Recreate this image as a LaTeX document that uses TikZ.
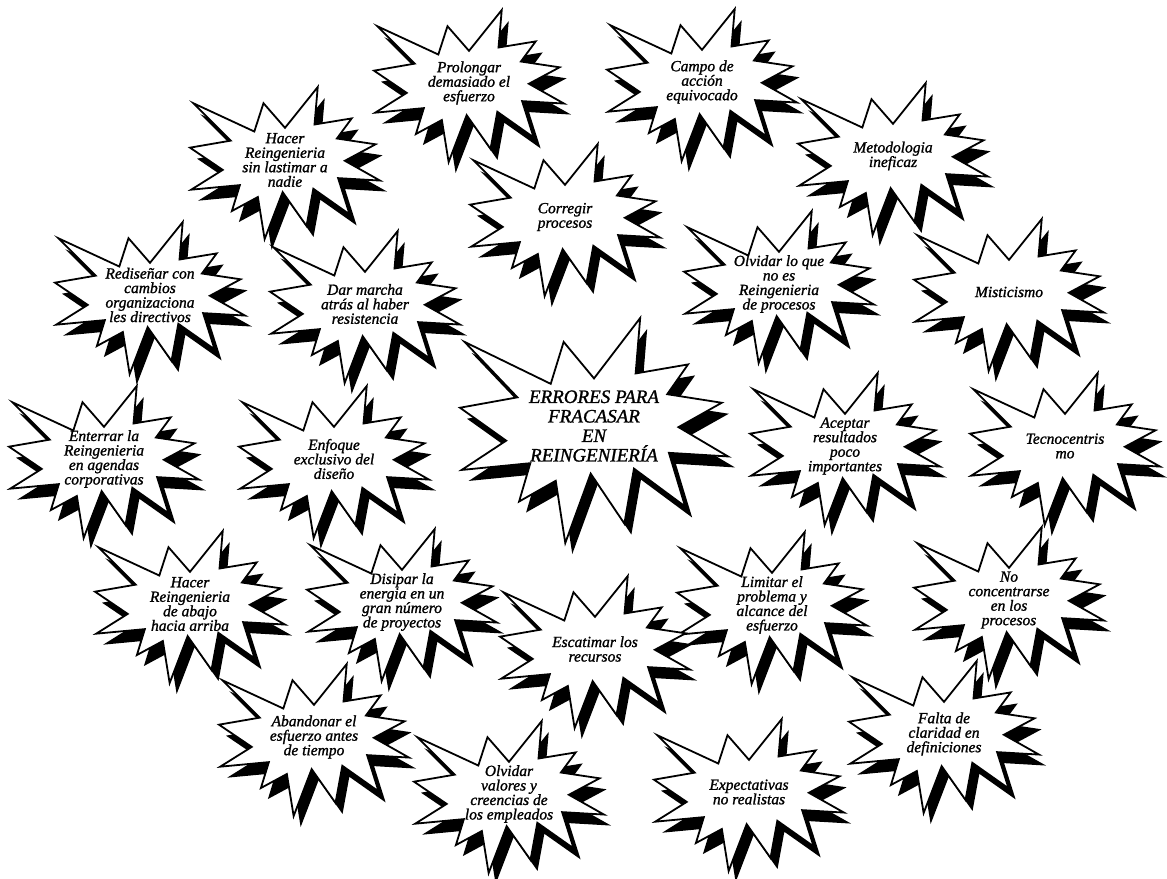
\documentclass[tikz,border=0pt]{standalone}
\usepackage{fontspec}
\setmainfont{Liberation Serif}[ItalicFeatures={FakeBold=1.3}]
\usetikzlibrary{calc,backgrounds}

\newcommand\burstpath{(0.5,0.2685) -- (0.6723,0) -- (0.6553,0.2465) -- (0.8509,0.2063) -- (0.7732,0.3387) -- (0.9767,0.3767) -- (0.8151,0.4850) -- (1,0.6153) -- (0.7795,0.5992) -- (0.8400,0.8377) -- (0.6491,0.6693) -- (0.6133,0.9137) -- (0.4876,0.6914) -- (0.3928,1) -- (0.3572,0.7235) -- (0.2205,0.8156) -- (0.2624,0.6452) -- (0.00625,0.6753) -- (0.1723,0.5451) -- (0,0.3988) -- (0.2142,0.3526) -- (0.0171,0.1063) -- (0.3385,0.2926) -- (0.3867,0.1063) -- cycle}

% name, cx, cy, w, h, text style, text
\newcommand\burst[7]{%
  \fill[black, shift={({#2-0.5*#4+7},{#3-0.48*#5+11})}, xscale=#4, yscale=#5] \burstpath;
  \draw[burstline, shift={({#2-0.5*#4},{#3-0.48*#5})}, xscale=#4, yscale=#5] \burstpath;
  \node[#6] (#1) at (#2,#3) {#7};
}

\tikzset{
  burstline/.style={line width=1.8pt, line join=miter, fill=white, draw=black},
  bursttext/.style={font=\itshape\fontsize{15.5}{14.5}\selectfont, align=center, inner sep=0pt},
  bigtext/.style={font=\itshape\fontsize{19}{19.5}\selectfont, align=center, inner sep=0pt},
  conn/.style={line width=1.3pt, draw=black}
}

\begin{document}
\begin{tikzpicture}[x=1pt,y=-1pt]
\useasboundingbox[fill=white] (0,0) rectangle (1167,878);

\burst{hsl}{285}{160}{190}{152}{bursttext}{Hacer\\Reingenieria\\sin lastimar a\\nadie}
\burst{pro}{469}{83}{190}{152}{bursttext}{Prolongar\\demasiado el\\esfuerzo}
\burst{cam}{702}{82}{190}{152}{bursttext}{Campo de\\acción\\equivocado}
\burst{met}{893}{156}{190}{152}{bursttext}{Metodologia\\ineficaz}
\burst{cor}{565}{217}{190}{152}{bursttext}{Corregir\\procesos}
\burst{red}{150}{295}{190}{152}{bursttext}{Rediseñar con\\cambios\\organizaciona\\les directivos}
\burst{dar}{365}{304}{190}{152}{bursttext}{Dar marcha\\atrás al haber\\resistencia}
\burst{olv}{779}{284}{190}{152}{bursttext}{Olvidar lo que\\no es\\Reingenieria\\de procesos}
\burst{mis}{1009}{292}{190}{152}{bursttext}{Misticismo}
\burst{cen}{594}{426}{268}{225}{bigtext}{ERRORES PARA\\FRACASAR\\EN\\REINGENIERÍA}
\burst{ent}{104}{459}{190}{152}{bursttext}{Enterrar la\\Reingenieria\\en agendas\\corporativas}
\burst{enf}{334}{459}{190}{152}{bursttext}{Enfoque\\exclusivo del\\diseño}
\burst{ace}{845}{446}{190}{152}{bursttext}{Aceptar\\resultados\\poco\\importantes}
\burst{tec}{1065}{446}{190}{152}{bursttext}{Tecnocentris\\mo}
\burst{hab}{190}{604}{190}{152}{bursttext}{Hacer\\Reingenieria\\de abajo\\hacia arriba}
\burst{dis}{402}{602}{190}{152}{bursttext}{Disipar la\\energia en un\\gran número\\de proyectos}
\burst{lim}{772}{605}{190}{152}{bursttext}{Limitar el\\problema y\\alcance del\\esfuerzo}
\burst{noc}{1009}{600}{190}{152}{bursttext}{No\\concentrarse\\en los\\procesos}
\burst{esc}{595}{649}{190}{152}{bursttext}{Escatimar los\\recursos}
\burst{aba}{314}{737}{190}{152}{bursttext}{Abandonar el\\esfuerzo antes\\de tiempo}
\burst{ova}{509}{794}{190}{152}{bursttext}{Olvidar\\valores y\\creencias de\\los empleados}
\burst{exp}{749}{792}{190}{152}{bursttext}{Expectativas\\no realistas}
\burst{fal}{944}{734}{190}{152}{bursttext}{Falta de\\claridad en\\definiciones}

\begin{scope}[on background layer]
  % outer ring
  \draw[conn] (pro) -- (cam);
  \draw[conn] (cam) -- (met);
  \draw[conn] (met) -- (mis);
  \draw[conn] (mis) -- (tec);
  \draw[conn] (tec) -- (noc);
  \draw[conn] (noc) -- (fal);
  \draw[conn] (fal) -- (exp);
  \draw[conn] ($(exp)+(0,18)$) -- ($(ova)+(0,18)$);
  \draw[conn] ($(hab)+(0,45)$) -- ($(aba)+(-20,0)$);
  \draw[conn] ($(ent)+(20,0)$) -- ($(hab)+(-40,0)$);
  \draw[conn] (ent) -- (red);
  \draw[conn] (red) -- (hsl);
  \draw[conn] (hsl) -- (pro);
  % inner ring
  \draw[conn] ($(cor)+(0,-10)$) -- ($(olv)+(0,-10)$);
  \draw[conn] (cor) -- ($(dar)+(0,-20)$);
  \draw[conn] ($(olv)+(10,0)$) -- ($(ace)+(5,0)$);
  \draw[conn] (ace) -- (lim);
  \draw[conn] ($(esc)+(0,-20)$) -- ($(lim)+(0,40)$);
  \draw[conn] ($(enf)+(-20,0)$) -- ($(dis)+(-10,0)$);
  \draw[conn] ($(enf)+(-10,0)$) -- ($(dar)+(-15,0)$);
\end{scope}
\end{tikzpicture}
\end{document}
